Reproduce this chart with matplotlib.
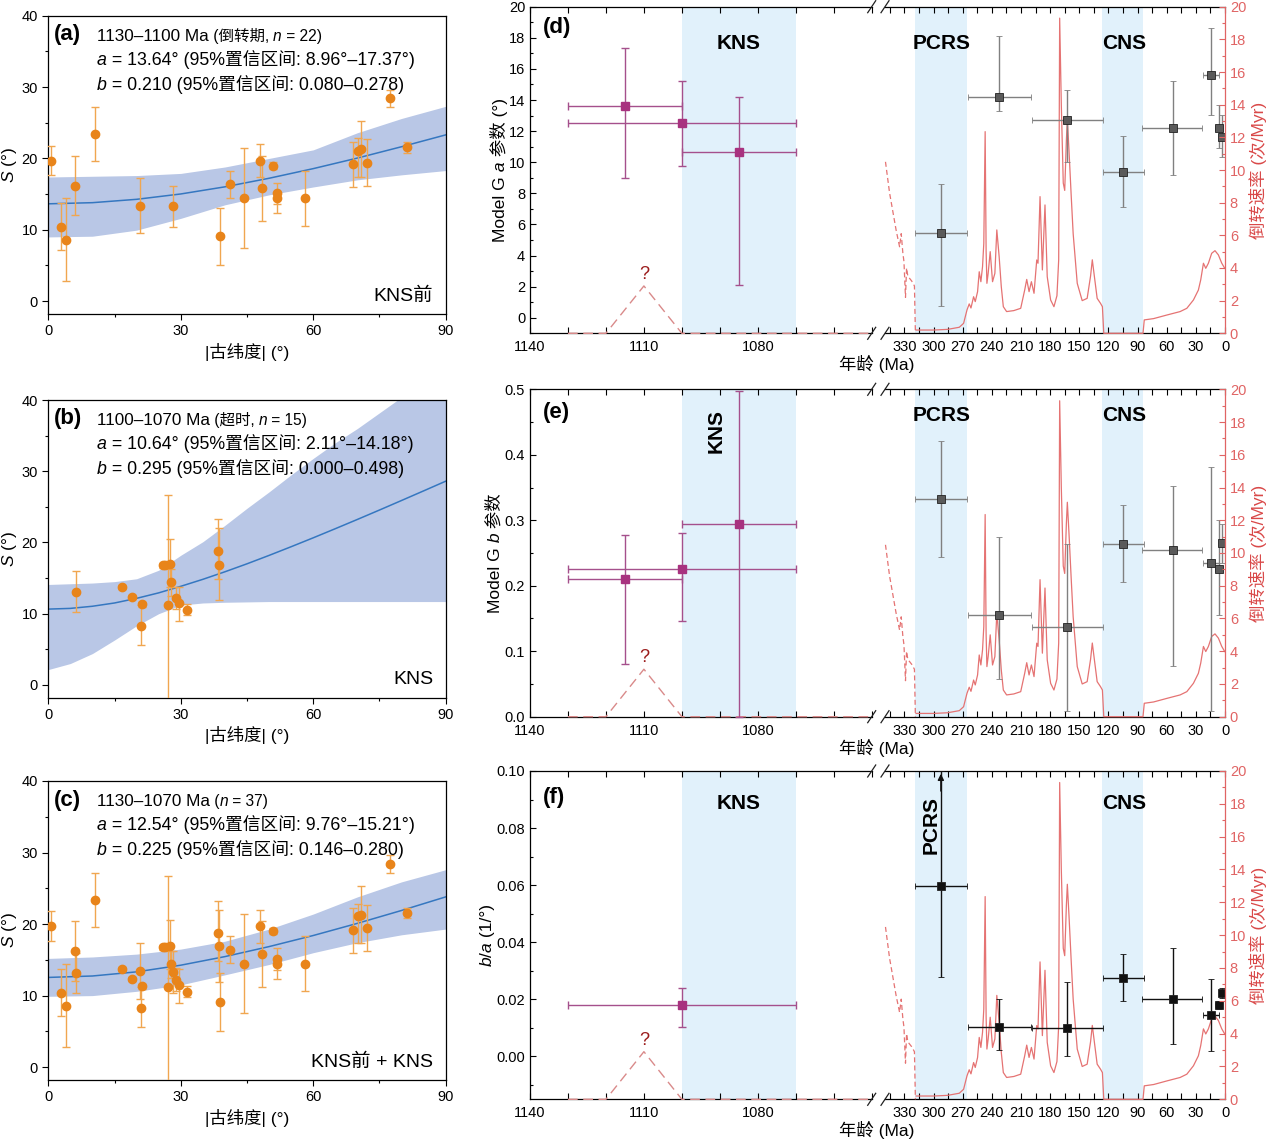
import numpy as np
import matplotlib
matplotlib.use("Agg")
import matplotlib.pyplot as plt
from matplotlib.lines import Line2D
from matplotlib.ticker import MultipleLocator, FixedLocator

# ---------------- data: panels (a)-(c), S vs |paleolatitude| ----------------
# (a) 1130-1100 Ma sites
lat_a = [0.5, 2.9, 3.9, 6.1, 10.6, 20.8, 28.2, 38.8, 41.1, 44.3, 48.0,
         48.4, 50.8, 51.7, 51.8, 58.2, 69.0, 70.1, 70.8, 72.1, 77.4, 81.3]
s_a = [19.7, 10.4, 8.6, 16.2, 23.4, 13.4, 13.3, 9.1, 16.4, 14.4, 19.7,
       15.8, 19.0, 15.1, 14.4, 14.4, 19.2, 21.1, 21.3, 19.4, 28.4, 21.6]
s_a_lo = [17.7, 7.2, 2.85, 12.1, 19.6, 9.5, 10.4, 5.1, 14.5, 7.5, 17.4,
          11.2, 18.55, 12.3, 13.6, 10.6, 16.0, 17.4, 17.4, 16.2, 27.2, 20.8]
s_a_hi = [21.8, 13.7, 14.4, 20.4, 27.15, 17.3, 16.2, 13.1, 18.3, 21.4, 21.96,
          20.4, 19.5, 16.6, 15.3, 18.3, 22.3, 22.8, 25.3, 22.7, 29.6, 22.3]

# (b) 1100-1070 Ma sites (KNS)
lat_b = [6.3, 16.8, 18.9, 20.9, 21.2, 26.0, 26.5, 27.2, 27.6, 27.7, 28.9,
         29.5, 31.3, 38.4, 38.6]
s_b = [13.1, 13.7, 12.3, 8.3, 11.3, 16.8, 16.8, 11.2, 17.0, 14.4, 12.2,
       11.5, 10.55, 18.75, 16.9]
s_b_lo = [10.3, 13.4, 12.0, 5.6, 10.9, 16.4, 16.4, -3.0, 13.7, 12.5, 10.7,
          9.0, 9.85, 14.8, 11.9]
s_b_hi = [16.0, 14.0, 12.6, 11.2, 11.6, 17.1, 17.1, 26.7, 20.5, 16.3, 13.8,
          13.7, 11.4, 23.25, 22.0]

# fitted Model G curves and 95% bands
fit_lat10 = [0, 10, 20, 30, 40, 50, 60, 70, 80, 90]
fit_lat5 = [0, 5, 10, 15, 20, 25, 30, 35, 40, 45, 50, 55, 60, 65, 70, 75, 80, 85, 90]

fit_a = [13.64, 13.80, 14.27, 15.02, 16.02, 17.22, 18.57, 20.05, 21.64, 23.30]
band_a_lo = [9.0, 9.1, 9.95, 11.6, 13.5, 14.9, 16.0, 17.0, 17.7, 18.3]
band_a_hi = [17.4, 17.5, 17.6, 17.9, 18.8, 20.0, 21.2, 23.6, 25.6, 27.3]

fit_b = [10.64, 10.74, 11.04, 11.50, 12.15, 12.92, 13.84, 14.82, 15.88, 17.00,
         18.18, 19.40, 20.65, 21.93, 23.23, 24.55, 25.89, 27.24, 28.60]
band_b_lo = [2.15, 3.0, 4.4, 6.3, 8.3, 10.0, 11.2, 11.5, 11.6, 11.65,
             11.7, 11.7, 11.7, 11.7, 11.7, 11.7, 11.7, 11.7, 11.7]
band_b_hi = [14.1, 14.2, 14.3, 14.5, 14.9, 16.1, 18.2, 20.1, 22.4, 24.8,
             27.1, 29.5, 31.8, 34.0, 36.0, 38.2, 40.4, 42.5, 44.6]

fit_c = [12.54, 12.74, 13.32, 14.25, 15.45, 16.85, 18.40, 20.10, 21.90, 23.80]
band_c_lo = [9.9, 10.0, 10.6, 11.5, 12.9, 14.35, 16.0, 17.4, 18.5, 19.3]
band_c_hi = [15.2, 15.4, 15.8, 16.5, 17.6, 19.3, 21.4, 23.8, 25.9, 27.6]

# ---------------- data: panels (d)-(f), parameters vs age ----------------
old_age = [1115, 1100, 1085]
old_from = [1130, 1130, 1100]
old_to = [1100, 1070, 1070]
a_old = [13.64, 12.54, 10.64]
a_old_lo = [8.96, 9.76, 2.11]
a_old_hi = [17.37, 15.21, 14.18]
b_old = [0.210, 0.225, 0.295]
b_old_lo = [0.080, 0.146, 0.000]
b_old_hi = [0.278, 0.280, 0.498]
ba_old_age = [1100]
ba_old_from = [1130]
ba_old_to = [1070]
ba_old = [0.018]
ba_old_lo = [0.0105]
ba_old_hi = [0.024]

young_age = [292.5, 232.5, 162.5, 105.0, 54.0, 14.7, 6.2, 3.4]
young_from = [319.0, 265.3, 199.7, 126.3, 84.4, 23.0, 9.6, 5.0]
young_to = [266.0, 200.7, 126.3, 84.4, 23.0, 6.9, 1.7, 1.5]
a_young = [5.47, 14.19, 12.69, 9.39, 12.20, 15.61, 12.22, 11.64]
a_young_lo = [0.75, 13.31, 9.99, 7.10, 9.20, 13.02, 10.90, 10.35]
a_young_hi = [8.58, 18.14, 14.64, 11.70, 15.22, 18.61, 13.68, 13.03]
b_young = [0.333, 0.156, 0.137, 0.264, 0.255, 0.235, 0.226, 0.265]
b_young_lo = [0.244, 0.058, 0.009, 0.206, 0.078, 0.009, 0.156, 0.235]
b_young_hi = [0.421, 0.275, 0.264, 0.324, 0.352, 0.382, 0.300, 0.294]
ba_young = [0.0598, 0.0103, 0.0100, 0.0274, 0.0203, 0.0147, 0.0179, 0.0222]
ba_young_lo = [0.0279, 0.0024, 0.0000, 0.0195, 0.0045, 0.0019, 0.0165, 0.0205]
ba_young_hi = [0.1000, 0.0203, 0.0261, 0.0359, 0.0379, 0.0273, 0.0195, 0.0240]

# reversal rate (per Myr)
rate_old_age = [1130, 1120, 1110, 1100, 1050]
rate_old = [0, 0, 2.9, 0, 0]
rate_dash_age = [349.5, 345.3, 338.5, 335.0, 333.3, 331.6, 330.5, 328.9, 327.8,
                 326.5, 322.5, 319.7, 318.7]
rate_dash = [10.5, 8.6, 6.3, 5.3, 6.1, 4.9, 4.4, 2.2, 4.0, 3.5, 3.2, 2.9, 0.0]
rate_age = [318.0, 300.0, 285.6, 273.5, 269.1, 265.6, 263.3, 261.5, 258.8, 257.1,
            254.7, 253.0, 251.3, 249.6, 248.3, 246.9, 245.9, 245.1, 243.8, 241.7,
            239.3, 236.9, 234.9, 232.5, 230.3, 228.2, 224.8, 217.4, 210.3, 206.2,
            204.1, 201.7, 199.3, 196.6, 193.8, 192.5, 190.4, 188.0, 185.3, 183.0,
            179.5, 176.1, 173.0, 171.2, 170.2, 168.5, 166.5, 165.0, 163.3, 162.3,
            160.6, 158.3, 156.3, 152.1, 147.0, 141.9, 138.4, 136.6, 134.5, 131.6,
            128.2, 126.2, 124.8, 84.4, 83.1, 73.5, 59.8, 46.2, 39.3, 32.5,
            27.4, 25.0, 22.2, 19.8, 17.1, 13.7, 10.3, 6.8, 3.4, 0.3]
rate = [0.2, 0.2, 0.24, 0.37, 0.61, 1.43, 1.8, 1.55, 2.24, 1.94,
        2.55, 3.77, 3.16, 4.08, 5.5, 12.35, 5.0, 3.06, 3.67, 5.0,
        3.16, 3.67, 6.33, 4.7, 2.86, 1.63, 1.33, 1.39, 1.53, 2.65,
        3.3, 2.55, 3.16, 2.45, 4.49, 4.29, 8.37, 3.88, 7.86, 3.47,
        2.04, 1.63, 2.3, 4.5, 19.3, 14.0, 9.2, 8.75, 11.8, 13.1,
        11.2, 8.4, 6.1, 3.06, 2.0, 2.14, 3.5, 4.5, 3.5, 2.14,
        1.84, 1.63, 0.0, 0.0, 0.82, 0.9, 1.12, 1.33, 1.53, 2.04,
        2.65, 3.27, 4.29, 3.98, 4.29, 4.9, 5.06, 4.8, 4.3, 3.98]

# ---------------- style ----------------
plt.rcParams['font.family'] = ['Liberation Sans', 'Noto Sans CJK SC']
plt.rcParams['mathtext.fontset'] = 'custom'
plt.rcParams['mathtext.rm'] = 'Liberation Sans'
plt.rcParams['mathtext.it'] = 'Liberation Sans:italic'
plt.rcParams['axes.linewidth'] = 0.9
plt.rcParams['xtick.labelsize'] = 10.5
plt.rcParams['ytick.labelsize'] = 10.5

ORANGE = '#e8841a'
ORANGE_BAR = '#f0a650'
BAND = '#b9c7e6'
FIT = '#3577c0'
SPAN = '#e1f1fb'
MAGENTA = '#a8327f'
MAGENTA_BAR = '#a5508c'
RED = '#e57373'
RED_AX = '#e06464'
QMARK = '#9b1b1b'
IT = dict(style='italic')

W, H = 1267, 1139
fig = plt.figure(figsize=(W / 100, H / 100), dpi=100)


def rect(x0, y0, x1, y1):
    # pixel box (top-left origin) -> figure fraction
    return [x0 / W, 1 - y1 / H, (x1 - x0) / W, (y1 - y0) / H]


def rich_line(ax, x, y, pieces, transform=None, rotation=0, size=12.8, color='k'):
    # chain text pieces so that italics can sit inside CJK strings
    if rotation == 0:
        ha, xy = 'left', (1, 0)
    else:
        ha, xy = 'right', (1, 1)
    texts = []
    for i, (s, style) in enumerate(pieces):
        kw = dict(size=size, color=color, ha=ha, va='bottom', rotation=rotation)
        kw.update(style)
        if i == 0:
            t = ax.text(x, y, s, transform=transform or ax.transAxes, **kw)
        else:
            t = ax.annotate(s, xy=xy, xycoords=texts[-1], annotation_clip=False, **kw)
        texts.append(t)
    return texts


# ---------------- panels (a)-(c) ----------------
def lat_panel(box, lat, s, lo, hi, flat, fit, blat, blo, bhi, tag, head, a_txt, b_txt, corner):
    ax = fig.add_axes(rect(*box))
    ax.fill_between(blat, blo, bhi, color=BAND, lw=0, zorder=1)
    ax.plot(flat, fit, color=FIT, lw=1.1, zorder=2)
    s = np.array(s)
    yerr = [s - np.array(lo), np.array(hi) - s]
    ax.errorbar(lat, s, yerr=yerr, fmt='o', ms=6, mfc=ORANGE, mec=ORANGE,
                ecolor=ORANGE_BAR, elinewidth=1.0, capsize=2.6, capthick=1.0, zorder=3)
    ax.set_xlim(0, 90)
    ax.set_ylim(-1.8, 40)
    ax.xaxis.set_major_locator(MultipleLocator(30))
    ax.xaxis.set_minor_locator(MultipleLocator(15))
    ax.yaxis.set_major_locator(MultipleLocator(10))
    ax.yaxis.set_minor_locator(MultipleLocator(5))
    ax.tick_params(which='major', direction='out', length=4, width=0.8)
    ax.tick_params(which='minor', direction='out', length=2.5, width=0.8)
    ax.set_xlabel('|古纬度| (°)', fontsize=12.5, labelpad=3)
    ax.set_ylabel('$S$ (°)', fontsize=12.5, labelpad=2)
    ax.text(0.014, 0.918, tag, transform=ax.transAxes, fontsize=16,
            fontweight='bold', va='baseline')
    rich_line(ax, 0.122, 0.906, head)
    rich_line(ax, 0.122, 0.822, [('a', IT), (a_txt, {})])
    rich_line(ax, 0.122, 0.738, [('b', IT), (b_txt, {})])
    ax.text(0.969, 0.045, corner, transform=ax.transAxes, ha='right',
            va='baseline', fontsize=14)
    return ax


HEAD = dict(size=12.3)
SMALL = dict(size=11.2)
SMALL_IT = dict(size=11.2, style='italic')

lat_panel((48.3, 15.7, 445.7, 314), lat_a, s_a, s_a_lo, s_a_hi,
          fit_lat10, fit_a, fit_lat10, band_a_lo, band_a_hi, '(a)',
          [('1130–1100 Ma', HEAD), (' (倒转期, ', SMALL), ('n', SMALL_IT), (' = 22)', SMALL)],
          ' = 13.64° (95%置信区间: 8.96°–17.37°)',
          ' = 0.210 (95%置信区间: 0.080–0.278)', 'KNS前')

lat_panel((48.3, 400, 445.7, 697.7), lat_b, s_b, s_b_lo, s_b_hi,
          fit_lat5, fit_b, fit_lat5, band_b_lo, band_b_hi, '(b)',
          [('1100–1070 Ma', HEAD), (' (超时, ', SMALL), ('n', SMALL_IT), (' = 15)', SMALL)],
          ' = 10.64° (95%置信区间: 2.11°–14.18°)',
          ' = 0.295 (95%置信区间: 0.000–0.498)', 'KNS')

lat_panel((48.3, 781, 445.7, 1080), lat_a + lat_b, s_a + s_b, s_a_lo + s_b_lo, s_a_hi + s_b_hi,
          fit_lat10, fit_c, fit_lat10, band_c_lo, band_c_hi, '(c)',
          [('1130–1070 Ma', HEAD), (' (', SMALL), ('n', SMALL_IT), (' = 37)', SMALL)],
          ' = 12.54° (95%置信区间: 9.76°–15.21°)',
          ' = 0.225 (95%置信区间: 0.146–0.280)', 'KNS前 + KNS')


# ---------------- panels (d)-(f) ----------------
rot_labels = []


def time_row(top, bot, ylim, ymaj, ymin, tag, tag_y, lab_y,
             old_x, old_a, old_b, old_v, old_lo, old_hi,
             yv, ylo, yhi, yface, ybar, ylabel, ylabel_x,
             kns_rot=None, pcrs_rot=None):
    axL = fig.add_axes(rect(530, top, 871.7, bot))
    axR = fig.add_axes(rect(885, top, 1225, bot))
    rateL = axL.twinx()
    rateR = axR.twinx()

    # shaded intervals
    axL.axvspan(1100, 1070, color=SPAN, lw=0, zorder=0.5)
    axR.axvspan(319, 266, color=SPAN, lw=0, zorder=0.5)
    axR.axvspan(126.3, 84.4, color=SPAN, lw=0, zorder=0.5)

    # reversal rate curve, drawn in the rate axes' coordinates
    axL.plot(rate_old_age, rate_old, color='#d98a8a', lw=1.0, ls=(0, (7, 4)),
             transform=rateL.transData, zorder=2.6, clip_on=False)
    axR.plot(rate_dash_age, rate_dash, color=RED, lw=0.9, ls=(0, (4, 2.5)),
             transform=rateR.transData, zorder=2.6, clip_on=False)
    axR.plot(rate_age, rate, color=RED, lw=0.9,
             transform=rateR.transData, zorder=2.6, clip_on=False)
    axL.text(1110, 3.6, '?', transform=rateL.transData, color=QMARK, fontsize=13,
             ha='center', va='center')

    # parameter estimates
    old_v = np.array(old_v)
    axL.errorbar(old_x, old_v,
                 xerr=[np.array(old_a) - np.array(old_x), np.array(old_x) - np.array(old_b)],
                 yerr=[old_v - np.array(old_lo), np.array(old_hi) - old_v],
                 fmt='s', ms=6, mfc=MAGENTA, mec=MAGENTA, ecolor=MAGENTA_BAR,
                 elinewidth=1.0, capsize=2.6, capthick=1.0, zorder=4, clip_on=False)
    yv = np.array(yv)
    axR.errorbar(young_age, yv,
                 xerr=[np.array(young_from) - np.array(young_age),
                       np.array(young_age) - np.array(young_to)],
                 yerr=[yv - np.array(ylo), np.array(yhi) - yv],
                 fmt='s', ms=6, mfc=yface, mec='#222222', mew=0.6, ecolor=ybar,
                 elinewidth=1.0, capsize=2.4, capthick=1.0, zorder=4)

    # limits and ticks
    for ax in (axL, axR):
        ax.set_ylim(*ylim)
        ax.yaxis.set_major_locator(MultipleLocator(ymaj))
        ax.yaxis.set_minor_locator(MultipleLocator(ymin))
        ax.tick_params(which='both', direction='in', top=True, length=4, width=0.8)
        ax.tick_params(axis='y', which='minor', length=2.5)
        ax.tick_params(axis='x', which='major', pad=5)
    axL.set_xlim(1140, 1050)
    axR.set_xlim(350, 0)
    axL.xaxis.set_major_locator(FixedLocator([1140, 1110, 1080]))
    axL.xaxis.set_minor_locator(MultipleLocator(10))
    axR.xaxis.set_major_locator(FixedLocator(list(range(0, 331, 30))))
    axR.xaxis.set_minor_locator(MultipleLocator(15))
    axL.spines['right'].set_visible(False)
    axR.spines['left'].set_visible(False)
    axR.spines['right'].set_visible(False)
    axR.tick_params(axis='y', which='both', left=False, labelleft=False)

    rateL.set_ylim(0, 20)
    rateL.set_axis_off()
    rateR.set_ylim(0, 20)
    for sp in ('left', 'top', 'bottom'):
        rateR.spines[sp].set_visible(False)
    rateR.spines['right'].set_color(RED_AX)
    rateR.yaxis.set_major_locator(MultipleLocator(2))
    rateR.yaxis.set_minor_locator(MultipleLocator(1))
    rateR.tick_params(axis='y', which='both', direction='in', colors=RED_AX, width=0.8)
    rateR.tick_params(axis='y', which='major', length=4)
    rateR.tick_params(axis='y', which='minor', length=2.5)

    # labels
    axL.text(0.038, tag_y, tag, transform=axL.transAxes, fontsize=16,
             fontweight='bold', va='baseline')
    if kns_rot is None:
        axL.text(1085, lab_y, 'KNS', transform=axL.get_xaxis_transform(), fontsize=15,
                 fontweight='bold', ha='center', va='center')
    else:
        axL.text(1091, kns_rot, 'KNS', transform=axL.get_xaxis_transform(), fontsize=15,
                 fontweight='bold', ha='center', va='center', rotation=90)
    if pcrs_rot is None:
        axR.text(292, lab_y, 'PCRS', transform=axR.get_xaxis_transform(), fontsize=15,
                 fontweight='bold', ha='center', va='center')
    else:
        axR.text(302.5, pcrs_rot, 'PCRS', transform=axR.get_xaxis_transform(), fontsize=15,
                 fontweight='bold', ha='center', va='center', rotation=90)
    axR.text(104, lab_y, 'CNS', transform=axR.get_xaxis_transform(), fontsize=15,
             fontweight='bold', ha='center', va='center')

    fig.text(877 / W, 1 - (bot + 31) / H, '年龄 (Ma)', fontsize=12.5, ha='center', va='center')
    fig.text(1258 / W, 1 - (top + bot) / 2 / H, '倒转速率 (次/Myr)', fontsize=12.5,
             color='#d94848', rotation=90, ha='center', va='center')
    texts = rich_line(axL, ylabel_x / W, 0.5, ylabel, transform=fig.transFigure,
                      rotation=90, size=12.5)
    rot_labels.append((texts, (top + bot) / 2))

    # axis break marks
    for xc in (871.7, 885):
        for yc in (top, bot):
            fig.add_artist(Line2D([(xc - 4) / W, (xc + 4) / W],
                                  [1 - (yc + 6) / H, 1 - (yc - 6) / H],
                                  color='#222222', lw=0.9))
    return axL, axR


time_row(6.7, 333.3, (-1, 20), 2, 1, '(d)', 0.918, 0.886,
         old_age, old_from, old_to, a_old, a_old_lo, a_old_hi,
         a_young, a_young_lo, a_young_hi, '#5a5a5a', '#808080',
         [('Model G', {}), (' a', IT), (' 参数 (°)', {})], 508)

time_row(389.3, 716.7, (0, 0.5), 0.1, 0.05, '(e)', 0.911, 0.919,
         old_age, old_from, old_to, b_old, b_old_lo, b_old_hi,
         b_young, b_young_lo, b_young_hi, '#5a5a5a', '#808080',
         [('Model G', {}), (' b', IT), (' 参数', {})], 503, kns_rot=0.874)

axf_L, axf_R = time_row(771, 1099.3, (-0.015, 0.10), 0.02, 0.01, '(f)', 0.902, 0.902,
                        ba_old_age, ba_old_from, ba_old_to, ba_old, ba_old_lo, ba_old_hi,
                        ba_young, ba_young_lo, ba_young_hi, '#111111', '#111111',
                        [('b', IT), ('/', {}), ('a', IT), (' (1/°)', {})], 495, pcrs_rot=0.834)
# PCRS b/a upper bound runs off the top of the panel
axf_R.annotate('', xy=(292.5, 0.1), xytext=(292.5, 0.092),
               arrowprops=dict(arrowstyle='-|>', color='#111111', lw=1.0, mutation_scale=9),
               annotation_clip=False, zorder=5)

# centre the rotated multi-part y labels on their axes
fig.canvas.draw()
renderer = fig.canvas.get_renderer()
for texts, yc_px in rot_labels:
    y0 = min(t.get_window_extent(renderer).y0 for t in texts)
    y1 = max(t.get_window_extent(renderer).y1 for t in texts)
    target = (1 - yc_px / H) * fig.bbox.height
    x, y = texts[0].get_position()
    texts[0].set_position((x, y + (target - (y0 + y1) / 2) / fig.bbox.height))

fig.savefig('out.png', dpi=100, facecolor='white')
